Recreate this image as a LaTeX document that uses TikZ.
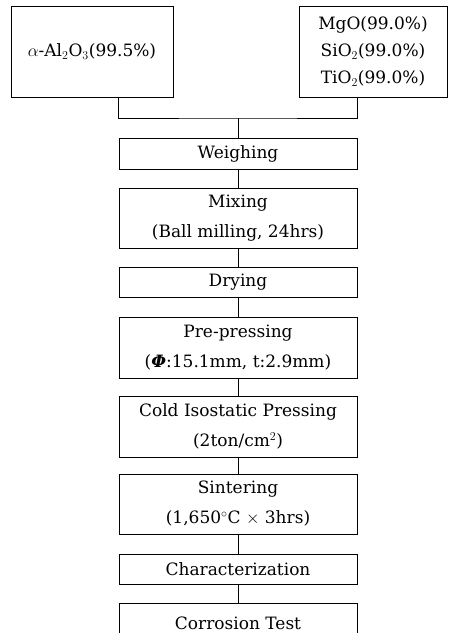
\documentclass[tikz,border=0pt]{standalone}
\usepackage{fontspec}
\setmainfont{DejaVu Serif}

\tikzset{
  schritt/.style={draw, line width=0.8pt, inner sep=0pt, minimum width=238pt,
    align=center, font=\fontsize{17}{30}\selectfont},
  rohstoff/.style={draw, line width=0.8pt, inner sep=0pt, minimum height=91pt,
    align=center, font=\fontsize{17}{27}\selectfont}
}

\begin{document}
\begin{tikzpicture}[x=1pt, y=-1pt, line width=0.8pt]

        % Bildrahmen
        \clip (0,0) rectangle (462,633);

        % Ausgangsstoffe
        \node[rohstoff, minimum width=162pt] (alum) at (92,51.5) {$\alpha$-Al$_2$O$_3$(99.5\%)};
        \node[rohstoff, minimum width=148pt] (dop) at (373,51.5)
            {MgO(99.0\%)\\SiO$_2$(99.0\%)\\TiO$_2$(99.0\%)};

        % Prozessschritte
        \node[schritt, minimum height=31pt] (weigh) at (238,153.5) {Weighing};
        \node[schritt, minimum height=60pt] (mix) at (238,218) {Mixing\\(Ball milling, 24hrs)};
        \node[schritt, minimum height=30pt] (dry) at (238,282) {Drying};
        \node[schritt, minimum height=61pt] (prep) at (238,347.5)
            {Pre-pressing\\(\textbf{\textit{Φ}}:15.1mm, t:2.9mm)};
        \node[schritt, minimum height=61pt] (cip) at (238,426.5)
            {Cold Isostatic Pressing\\(2ton/cm$^2$)};
        \node[schritt, minimum height=60pt] (sint) at (238,504)
            {Sintering\\(1,650${}^\circ$C $\times$ 3hrs)};
        \node[schritt, minimum height=30pt] (char) at (238,569) {Characterization};
        \node[schritt, minimum height=40pt] (corr) at (238,623) {Corrosion Test};

        % Zusammenfuehrung
        \coordinate (join) at (238,118);
        \draw (alum.south -| weigh.west) |- (join) -| (dop.south -| weigh.east);
        \draw (join) -- (weigh);

        % Verbindungen
        \foreach \a/\b in {weigh/mix, mix/dry, dry/prep, prep/cip, cip/sint, sint/char, char/corr}
        \draw (\a) -- (\b);

    \end{tikzpicture}
\end{document}
